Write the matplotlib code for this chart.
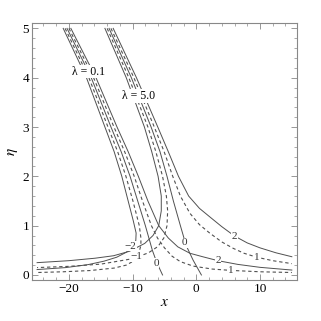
import matplotlib
matplotlib.use('Agg')
import matplotlib.pyplot as plt
from matplotlib.ticker import MultipleLocator

plt.rcParams['font.family'] = ['Liberation Serif', 'DejaVu Serif']
plt.rcParams['mathtext.fontset'] = 'stix'

# lambda = 0.1, contour levels -2 .. 2  (x, eta)
l1_m2_x = [-20.9, -17.25, -14.35, -12.9, -11.7, -10.7, -9.9, -9.45, -9.5, -10.0, -11.0, -12.5, -14.5, -17.0, -20.5, -25.0]
l1_m2_y = [5.0, 4.0, 3.0, 2.5, 2.0, 1.5, 1.1, 0.85, 0.7, 0.58, 0.46, 0.36, 0.28, 0.21, 0.15, 0.11]
l1_m1_x = [-20.6, -16.87, -13.87, -12.35, -11.05, -9.95, -8.95, -8.7, -8.7, -8.95, -9.25, -9.9, -11.0, -12.9, -16.7, -20.9, -25.0]
l1_m1_y = [5.0, 4.0, 3.0, 2.5, 2.0, 1.5, 1.0, 0.75, 0.6, 0.48, 0.37, 0.28, 0.2, 0.14, 0.09, 0.065, 0.05]
l1_0_x = [-20.3, -16.5, -13.4, -11.8, -10.4, -9.2, -8.0, -6.9, -6.2, -5.3]
l1_0_y = [5.0, 4.0, 3.0, 2.5, 2.0, 1.5, 1.0, 0.5, 0.25, 0.0]
l1_p1_x = [-20.0, -16.13, -12.93, -11.25, -9.75, -8.45, -7.05, -6.1, -5.0, -3.8, -2.5, -0.5, 2.5, 5.4, 10.0, 15.0]
l1_p1_y = [5.0, 4.0, 3.0, 2.5, 2.0, 1.5, 1.0, 0.75, 0.55, 0.38, 0.27, 0.18, 0.12, 0.093, 0.065, 0.05]
l1_p2_x = [-19.7, -15.75, -12.45, -10.7, -9.1, -7.6, -5.9, -4.4, -2.9, -1.0, 1.0, 3.4, 6.5, 10.0, 15.0]
l1_p2_y = [5.0, 4.0, 3.0, 2.5, 2.0, 1.5, 1.0, 0.75, 0.57, 0.44, 0.37, 0.29, 0.215, 0.155, 0.1]

# lambda = 5.0
l5_m2_x = [-14.35, -11.0, -8.15, -7.0, -6.0, -5.5, -5.5, -5.9, -6.8, -8.1, -10.5, -13.0, -15.9, -20.0, -25.0]
l5_m2_y = [5.0, 4.0, 3.0, 2.5, 2.0, 1.6, 1.3, 1.0, 0.8, 0.64, 0.48, 0.39, 0.34, 0.29, 0.25]
l5_m1_x = [-14.0, -10.6, -7.6, -6.35, -5.3, -4.7, -4.5, -4.6, -5.1, -6.0, -7.5, -10.0, -15.0, -20.0, -25.0]
l5_m1_y = [5.0, 4.0, 3.0, 2.5, 2.0, 1.6, 1.3, 1.0, 0.75, 0.58, 0.45, 0.33, 0.22, 0.175, 0.15]
l5_0_x = [-13.7, -10.2, -7.1, -5.7, -4.6, -3.6, -2.5, -1.6, -0.5, 0.8]
l5_0_y = [5.0, 4.0, 3.0, 2.5, 2.0, 1.5, 1.0, 0.6, 0.3, 0.0]
l5_p1_x = [-13.4, -9.8, -6.6, -5.05, -3.7, -2.5, -1.0, 0.5, 2.1, 4.0, 5.8, 7.5, 9.5, 12.0, 15.0]
l5_p1_y = [5.0, 4.0, 3.0, 2.5, 2.0, 1.6, 1.25, 1.02, 0.85, 0.67, 0.54, 0.44, 0.36, 0.29, 0.23]
l5_p2_x = [-13.05, -9.4, -6.05, -4.4, -2.8, -1.2, 0.5, 2.1, 4.0, 6.0, 8.0, 10.0, 12.5, 15.0]
l5_p2_y = [5.0, 4.0, 3.0, 2.5, 2.0, 1.6, 1.35, 1.18, 0.98, 0.79, 0.65, 0.55, 0.45, 0.37]

# contour labels: text, x, eta
lab_txt = ['\u22122', '\u22121', '0', '0', '2', '1', '2', '1']
lab_x = [-10.3, -9.4, -6.3, -1.8, 6.0, 9.5, 3.4, 5.4]
lab_y = [0.58, 0.37, 0.24, 0.65, 0.79, 0.36, 0.30, 0.09]

fig = plt.figure(figsize=(3.21, 3.21), dpi=100)
ax = fig.add_axes([0.0997, 0.128, 0.8253, 0.799])

col = '#505050'
solid = dict(color=col, lw=0.7)
dash = dict(color=col, lw=0.8, ls=(0, (3, 2.5)))

ax.plot(l1_m2_x, l1_m2_y, **solid)
ax.plot(l1_m1_x, l1_m1_y, **dash)
ax.plot(l1_0_x, l1_0_y, **solid)
ax.plot(l1_p1_x, l1_p1_y, **dash)
ax.plot(l1_p2_x, l1_p2_y, **solid)
ax.plot(l5_m2_x, l5_m2_y, **solid)
ax.plot(l5_m1_x, l5_m1_y, **dash)
ax.plot(l5_0_x, l5_0_y, **solid)
ax.plot(l5_p1_x, l5_p1_y, **dash)
ax.plot(l5_p2_x, l5_p2_y, **solid)

for t, x, y in zip(lab_txt, lab_x, lab_y):
    ax.text(x, y, t, fontsize=8, ha='center', va='center', color='#333333',
            bbox=dict(facecolor='white', edgecolor='none', pad=0.3))

ax.text(-16.9, 4.12, '\u03bb = 0.1', fontsize=8.5, ha='center', va='center',
        bbox=dict(facecolor='white', edgecolor='none', pad=0.5))
ax.text(-9.1, 3.63, '\u03bb = 5.0', fontsize=8.5, ha='center', va='center',
        bbox=dict(facecolor='white', edgecolor='none', pad=0.5))

ax.set_xlim(-25.8, 15.8)
ax.set_ylim(-0.1, 5.1)
ax.xaxis.set_major_locator(MultipleLocator(10))
ax.xaxis.set_minor_locator(MultipleLocator(2))
ax.yaxis.set_major_locator(MultipleLocator(1))
ax.yaxis.set_minor_locator(MultipleLocator(0.2))
ax.tick_params(which='both', direction='in', top=True, right=True, color='#888888',
               labelsize=9.5, pad=2)
ax.tick_params(which='major', length=4, width=0.6)
ax.tick_params(which='minor', length=2, width=0.5)
for s in ax.spines.values():
    s.set_color('#888888')
    s.set_linewidth(0.8)
ax.set_xlabel('$x$', fontsize=11, labelpad=1)
ax.set_ylabel('$\\eta$', fontsize=11, labelpad=2)

fig.savefig('out.png', dpi=100)
